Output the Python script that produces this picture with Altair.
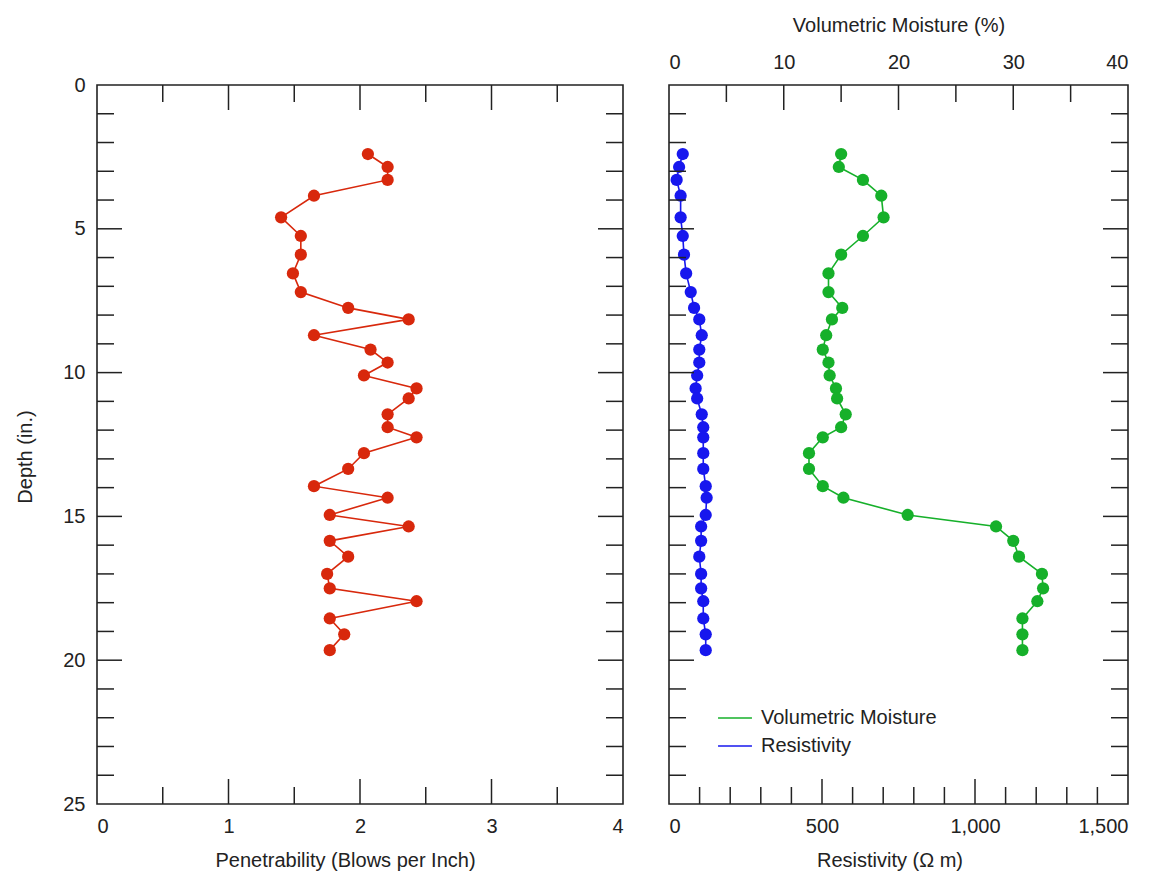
import altair as alt
import pandas as pd

# ---------------- data ----------------
depth = [2.4, 2.85, 3.3, 3.85, 4.6, 5.25, 5.9, 6.55, 7.2, 7.75, 8.15, 8.7, 9.2, 9.65,
         10.1, 10.55, 10.9, 11.45, 11.9, 12.25, 12.8, 13.35, 13.95, 14.35, 14.95, 15.35,
         15.85, 16.4, 17.0, 17.5, 17.95, 18.55, 19.1, 19.65]
penetrability = [2.06, 2.21, 2.21, 1.65, 1.40, 1.55, 1.55, 1.49, 1.55, 1.91, 2.37, 1.65,
                 2.08, 2.21, 2.03, 2.43, 2.37, 2.21, 2.21, 2.43, 2.03, 1.91, 1.65, 2.21,
                 1.77, 2.37, 1.77, 1.91, 1.75, 1.77, 2.43, 1.77, 1.88, 1.77]
resistivity = [45, 33, 25, 38, 38, 45, 49, 56, 71, 82, 99, 107, 99, 99, 92, 87, 92, 107,
               112, 112, 112, 112, 120, 123, 120, 105, 105, 99, 105, 105, 112, 112, 120, 120]
moisture = [15.0, 14.8, 16.9, 18.5, 18.7, 16.9, 15.0, 13.9, 13.9, 15.1, 14.2, 13.7, 13.4,
            13.9, 14.0, 14.55, 14.65, 15.4, 15.0, 13.4, 12.2, 12.2, 13.4, 15.2, 20.8, 28.5,
            30.0, 30.5, 32.5, 32.6, 32.1, 30.8, 30.8, 30.8]

series_names = ["Volumetric Moisture", "Resistivity"]

# axis tick values
depth_labels = [0, 5, 10, 15, 20, 25]
depth_major = [5, 10, 15, 20]
depth_minor = [1, 2, 3, 4, 6, 7, 8, 9, 11, 12, 13, 14, 16, 17, 18, 19, 21, 22, 23, 24]
pen_labels = [0, 1, 2, 3, 4]
pen_major = [1, 2, 3]
pen_minor = [0.5, 1.5, 2.5, 3.5]
res_labels = [0, 500, 1000, 1500]
res_major = [500, 1000]
res_minor = [100, 200, 300, 400, 600, 700, 800, 900, 1100, 1200, 1300, 1400]
moist_labels = [0, 10, 20, 30, 40]
moist_major = [10, 20, 30]
moist_minor = [5, 15, 25, 35]

# ---------------- styles ----------------
RED = "#d8280c"
GREEN = "#16b02a"
BLUE = "#1717ee"
INK = "#222222"
FONT = "Liberation Sans"
FS = 20
W1, W2, H = 526, 459, 719
MAJ, MIN = 25, 17
PT = 150

df = pd.DataFrame({"depth": depth, "pen": penetrability,
                   "res": resistivity, "moist": moisture})

yscale = alt.Scale(domain=[0, 25], reverse=True, nice=False, zero=False)
pen_scale = alt.Scale(domain=[0, 4], nice=False)
res_scale = alt.Scale(domain=[0, 1500], nice=False)
moist_scale = alt.Scale(domain=[0, 40], nice=False)

ax_depth = alt.Axis(values=depth_labels, ticks=False, tickSize=0, domain=False,
                    grid=False, labelPadding=12, title="Depth (in.)", titlePadding=27,
                    titleY=H / 2 + 12)
ax_pen = alt.Axis(values=pen_labels, ticks=False, tickSize=0, domain=False,
                  grid=False, labelPadding=12, title="Penetrability (Blows per Inch)",
                  titlePadding=14, titleX=W1 / 2 - 15)
ax_res = alt.Axis(values=res_labels, labelExpr="format(datum.value, ',')", ticks=False,
                  tickSize=0, domain=False, grid=False, labelPadding=12,
                  title="Resistivity (Ω m)", titlePadding=14, titleX=W2 / 2 - 9)
ax_moist = alt.Axis(orient="top", values=moist_labels, ticks=False, tickSize=0,
                    domain=False, grid=False, labelPadding=13,
                    title="Volumetric Moisture (%)", titlePadding=17)


def tdf(vals):
    return pd.DataFrame({"v": vals})


def hticks(vals, axis, side_x, length, inward_sign):
    """horizontal tick rules on a vertical edge"""
    return alt.Chart(tdf(vals)).mark_rule(color=INK, strokeWidth=1.5).encode(
        y=alt.Y("v:Q", scale=yscale, axis=axis),
        x=alt.value(side_x),
        x2=alt.value(side_x + inward_sign * length),
    )


def vticks(vals, xscale_, axis, side_y, length, inward_sign):
    """vertical tick rules on a horizontal edge"""
    return alt.Chart(tdf(vals)).mark_rule(color=INK, strokeWidth=1.5).encode(
        x=alt.X("v:Q", scale=xscale_, axis=axis),
        y=alt.value(side_y),
        y2=alt.value(side_y + inward_sign * length),
    )


def depth_edge_ticks(width, axis):
    return [
        hticks(depth_major, axis, 0, MAJ, 1),
        hticks(depth_minor, axis, 0, MIN, 1),
        hticks(depth_major, axis, width, MAJ, -1),
        hticks(depth_minor, axis, width, MIN, -1),
    ]


# ---------------- left panel ----------------
y_left = alt.Y("depth:Q", scale=yscale, axis=ax_depth)
x_pen = alt.X("pen:Q", scale=pen_scale, axis=ax_pen)

pen_line = alt.Chart(df).mark_line(color=RED, strokeWidth=1.6).encode(
    x=x_pen, y=y_left, order="depth:Q")
pen_pts = alt.Chart(df).mark_circle(color=RED, size=PT, opacity=1).encode(
    x=x_pen, y=y_left)

left = alt.layer(
    pen_line, pen_pts,
    vticks(pen_major, pen_scale, ax_pen, H, MAJ, -1),
    vticks(pen_minor, pen_scale, ax_pen, H, MIN, -1),
    vticks(pen_major, pen_scale, ax_pen, 0, MAJ, 1),
    vticks(pen_minor, pen_scale, ax_pen, 0, MIN, 1),
    *depth_edge_ticks(W1, ax_depth),
).properties(width=W1, height=H)

# ---------------- right panel ----------------
y_right = alt.Y("depth:Q", scale=yscale, axis=None)
color_enc = alt.Color(
    "series:N",
    scale=alt.Scale(domain=series_names, range=[GREEN, BLUE]),
    legend=alt.Legend(orient="none", legendX=48, legendY=615, title=None,
                      symbolType="stroke", symbolSize=1150, symbolStrokeWidth=1.6,
                      labelFontSize=FS, labelFont=FONT, labelColor=INK, labelLimit=400,
                      rowPadding=-8, padding=0, labelOffset=8),
)

x_res = alt.X("res:Q", scale=res_scale, axis=ax_res)
x_moist = alt.X("moist:Q", scale=moist_scale, axis=ax_moist)

res_line = alt.Chart(df).transform_calculate(series="'Resistivity'").mark_line(
    strokeWidth=1.6).encode(x=x_res, y=y_right, order="depth:Q", color=color_enc)
res_pts = alt.Chart(df).mark_circle(color=BLUE, size=PT, opacity=1).encode(
    x=x_res, y=y_right)
res_layer = alt.layer(
    res_line, res_pts,
    vticks(res_major, res_scale, ax_res, H, MAJ, -1),
    vticks(res_minor, res_scale, ax_res, H, MIN, -1),
)

moist_line = alt.Chart(df).transform_calculate(series="'Volumetric Moisture'").mark_line(
    strokeWidth=1.6).encode(x=x_moist, y=y_right, order="depth:Q", color=color_enc)
moist_pts = alt.Chart(df).mark_circle(color=GREEN, size=PT, opacity=1).encode(
    x=x_moist, y=y_right)
moist_layer = alt.layer(
    moist_line, moist_pts,
    vticks(moist_major, moist_scale, ax_moist, 0, MAJ, 1),
    vticks(moist_minor, moist_scale, ax_moist, 0, MIN, 1),
)

right = alt.layer(
    res_layer, moist_layer, *depth_edge_ticks(W2, None)
).resolve_scale(x="independent").properties(width=W2, height=H)

chart = alt.hconcat(left, right, spacing=42).resolve_legend(
    color="independent"
).properties(
    padding={"left": 6, "top": 6, "right": 5, "bottom": 5}
).configure_view(
    stroke=INK, strokeWidth=1.6
).configure_axis(
    labelFont=FONT, titleFont=FONT, labelFontSize=FS, titleFontSize=FS,
    labelColor=INK, titleColor=INK, titleFontWeight="normal",
)

chart.save("out.html", embed_options={"renderer": "svg", "actions": False})
